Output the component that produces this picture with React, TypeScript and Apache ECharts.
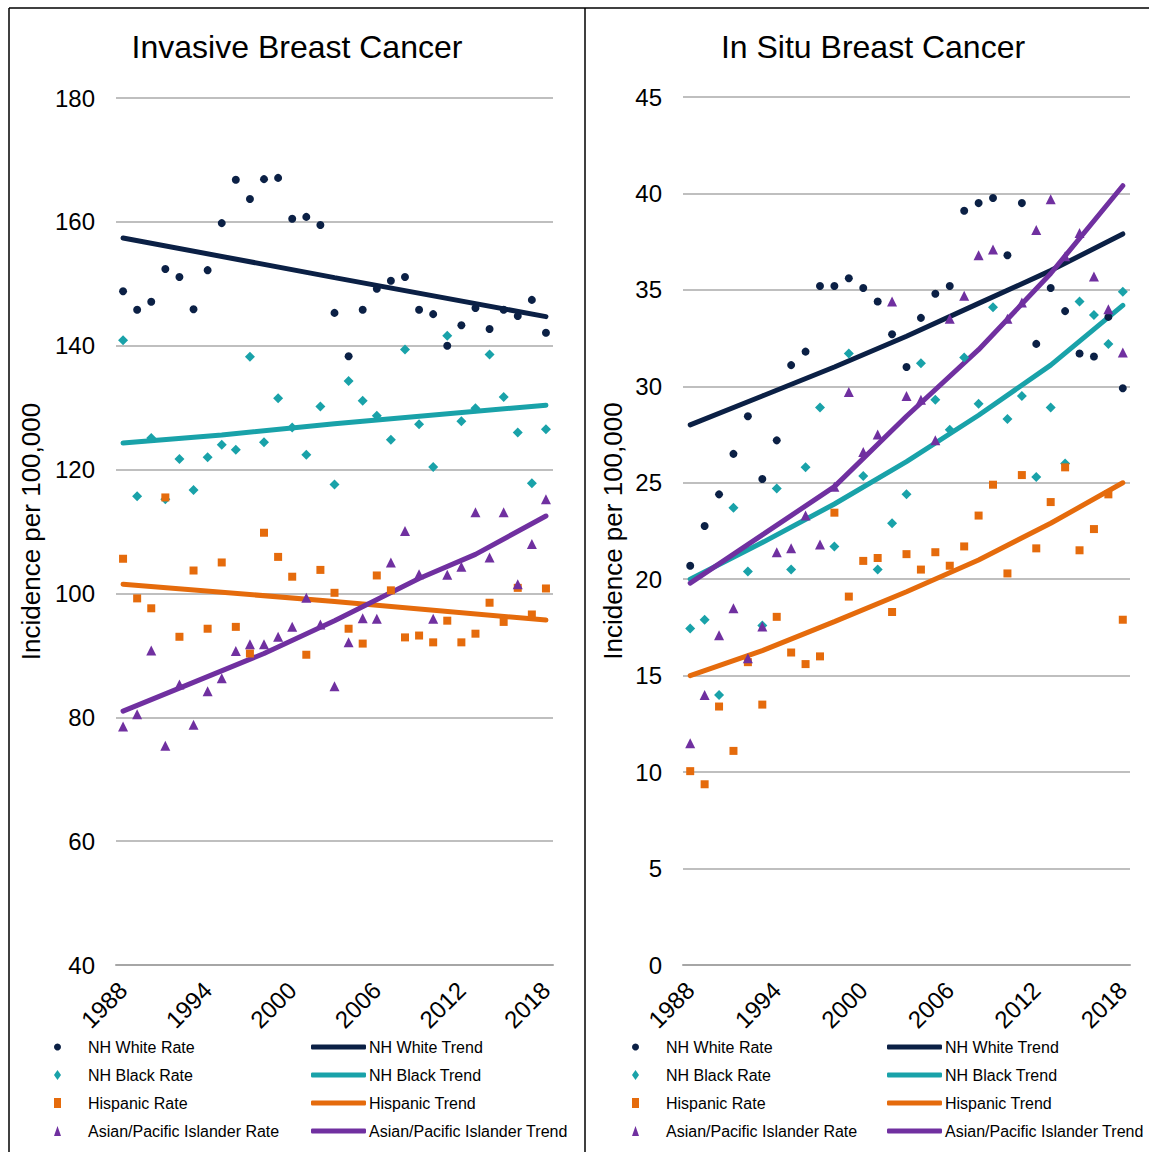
import React, { useEffect, useRef } from "react";
import * as echarts from "echarts";

const years = ["1988","1989","1990","1991","1992","1993","1994","1995","1996","1997","1998","1999","2000","2001","2002","2003","2004","2005","2006","2007","2008","2009","2010","2011","2012","2013","2014","2015","2016","2017","2018"];

// Invasive breast cancer (rates per 100,000)
const invWhite = [148.8,145.8,147.1,152.4,151.1,145.9,152.2,159.8,166.8,163.7,166.9,167.1,160.5,160.8,159.5,145.3,138.3,145.8,149.2,150.5,151.1,145.8,145.1,140.0,143.3,146.1,142.7,145.8,144.8,147.4,142.1];
const invBlack = [140.9,115.7,125.1,115.2,121.7,116.7,122.0,124.0,123.2,138.2,124.4,131.5,126.8,122.4,130.2,117.6,134.3,131.1,128.7,124.8,139.4,127.3,120.4,141.6,127.8,129.9,138.6,131.7,126.0,117.8,126.5];
const invHisp = [105.6,99.2,97.6,115.5,93.0,103.7,94.3,105.0,94.6,90.3,109.8,105.9,102.7,90.1,103.8,100.1,94.3,91.9,102.9,100.5,92.9,93.2,92.1,95.6,92.1,93.5,98.5,95.4,100.9,96.6,100.8];
const invApi = [78.5,80.5,90.8,75.4,85.3,78.8,84.2,86.3,90.7,91.8,91.8,93.0,94.6,99.3,95.0,85.0,92.1,96.0,95.9,105.0,110.1,103.1,95.9,103.0,104.3,113.1,105.8,113.1,101.5,108.0,115.2];
const invWhiteTrend = [[1988,157.4],[2003,151.0],[2018,144.7]];
const invBlackTrend = [[1988,124.3],[1995,125.6],[2003,127.4],[2018,130.4]];
const invHispTrend = [[1988,101.5],[2003,98.7],[2018,95.7]];
const invApiTrend = [[1988,81.0],[1992,84.7],[1998,90.3],[2003,95.6],[2009,102.4],[2013,106.3],[2018,112.5]];

// In situ breast cancer (rates per 100,000)
const isWhite = [20.7,22.76,24.4,26.5,28.45,25.2,27.2,31.1,31.8,35.2,35.2,35.6,35.1,34.4,32.7,31.0,33.55,34.8,35.2,39.1,39.5,39.76,36.8,39.5,32.2,35.1,33.9,31.7,31.55,33.6,29.9];
const isBlack = [17.45,17.9,14.0,23.7,20.4,17.6,24.7,20.5,25.8,28.9,21.7,31.7,25.35,20.5,22.9,24.4,31.2,29.3,27.75,31.5,29.1,34.1,28.3,29.5,25.3,28.9,26.0,34.4,33.7,32.2,34.9];
const isHisp = [10.05,9.37,13.4,11.1,15.7,13.5,18.05,16.2,15.6,16.0,23.45,19.1,20.95,21.1,18.3,21.3,20.5,21.4,20.7,21.7,23.3,24.9,20.3,25.4,21.6,24.0,25.8,21.5,22.6,24.4,17.9];
const isApi = [11.5,14.0,17.1,18.5,15.9,17.55,21.4,21.6,23.3,21.8,24.8,29.7,26.6,27.5,34.4,29.5,29.3,27.2,33.5,34.7,36.8,37.1,33.5,34.35,38.1,39.7,36.75,37.95,35.7,34.0,31.75];
const isWhiteTrend = [[1988,28.0],[1993,29.5],[1998,31.0],[2003,32.6],[2008,34.3],[2013,36.0],[2018,37.9]];
const isBlackTrend = [[1988,20.0],[1993,21.9],[1998,23.9],[2003,26.1],[2008,28.5],[2013,31.1],[2018,34.2]];
const isHispTrend = [[1988,15.0],[1993,16.3],[1998,17.8],[2003,19.35],[2008,21.0],[2013,22.9],[2018,25.0]];
const isApiTrend = [[1988,19.8],[1993,22.3],[1998,24.8],[2003,28.45],[2008,31.9],[2013,35.85],[2018,40.4]];

const rateNames = ["NH White Rate", "NH Black Rate", "Hispanic Rate", "Asian/Pacific Islander Rate"];
const trendNames = ["NH White Trend", "NH Black Trend", "Hispanic Trend", "Asian/Pacific Islander Trend"];
const colors = ["#0B2045", "#19A2A9", "#E56B0C", "#7030A0"];
const symbols = ["circle", "diamond", "rect", "triangle"];
const symbolSizes = [8, 10, 8, 10];

const FONT = "Liberation Sans, Arial, sans-serif";

export default function App() {
  const ref = useRef<HTMLDivElement>(null);
  useEffect(() => {
    if (!ref.current) return;
    const chart = echarts.init(ref.current, null, { renderer: "svg" });

    const grids = [
      { left: 116, top: 98, width: 437, height: 867 },
      { left: 683, top: 97, width: 447, height: 868 },
    ];

    const catAxis = (gi: number) => ({
      type: "category",
      gridIndex: gi,
      data: years,
      boundaryGap: true,
      axisLine: { lineStyle: { color: "#A6A6A6", width: 2 } },
      axisTick: { interval: 0, length: 8, lineStyle: { color: "#A6A6A6", width: 1.5 } },
      axisLabel: { interval: 5, rotate: 45, margin: 21, fontSize: 24, color: "#000", fontFamily: FONT },
      splitLine: { show: false },
    });
    const valX = (gi: number) => ({
      type: "value",
      gridIndex: gi,
      min: 1987.5,
      max: 2018.5,
      show: false,
      splitLine: { show: false },
    });
    const yAx = (gi: number, min: number, max: number, interval: number, gap: number) => ({
      type: "value",
      gridIndex: gi,
      min,
      max,
      interval,
      name: "Incidence per 100,000",
      nameLocation: "middle",
      nameGap: gap,
      nameTextStyle: { fontSize: 26, color: "#000", fontFamily: FONT },
      axisLine: { show: false },
      axisTick: { show: false },
      axisLabel: { margin: 21, fontSize: 24, color: "#000", fontFamily: FONT },
      splitLine: { lineStyle: { color: "#BFBFBF", width: 2 } },
    });

    const panels = [
      { rates: [invWhite, invBlack, invHisp, invApi], trends: [invWhiteTrend, invBlackTrend, invHispTrend, invApiTrend] },
      { rates: [isWhite, isBlack, isHisp, isApi], trends: [isWhiteTrend, isBlackTrend, isHispTrend, isApiTrend] },
    ];

    const series: any[] = [];
    panels.forEach((p, pi) => {
      p.trends.forEach((t, i) => {
        series.push({
          type: "line",
          name: trendNames[i],
          xAxisIndex: pi * 2 + 1,
          yAxisIndex: pi,
          data: t,
          showSymbol: false,
          symbol: "none",
          lineStyle: { color: colors[i], width: 5, cap: "round" },
          itemStyle: { color: colors[i] },
          z: 2,
        });
      });
      p.rates.forEach((r, i) => {
        series.push({
          type: "scatter",
          name: rateNames[i],
          xAxisIndex: pi * 2,
          yAxisIndex: pi,
          data: r,
          symbol: symbols[i],
          symbolSize: symbolSizes[i],
          itemStyle: { color: colors[i], opacity: 1 },
          z: 3 + i,
        });
      });
    });

    const legendText = { fontSize: 16, color: "#000", fontFamily: FONT };
    const rateLegend = (left: number) => ({
      orient: "vertical",
      left,
      top: 1034,
      itemWidth: 7,
      itemHeight: 10,
      itemGap: 12,
      selectedMode: false,
      textStyle: { ...legendText, padding: [0, 0, 0, 22] },
      data: rateNames,
    });
    const trendLegend = (left: number) => ({
      orient: "vertical",
      left,
      top: 1034,
      itemWidth: 55,
      itemHeight: 5,
      itemGap: 12,
      icon: "roundRect",
      selectedMode: false,
      textStyle: { ...legendText, padding: [0, 0, 0, -2] },
      data: trendNames,
    });

    chart.setOption({
      animation: false,
      backgroundColor: "#fff",
      grid: grids,
      xAxis: [catAxis(0), valX(0), catAxis(1), valX(1)],
      yAxis: [yAx(0, 40, 180, 20, 72), yAx(1, 0, 45, 5, 57)],
      legend: [rateLegend(49), trendLegend(306), rateLegend(627), trendLegend(882)],
      series,
      graphic: [
        { type: "line", shape: { x1: 9, y1: 8, x2: 1149, y2: 8 }, style: { stroke: "#000", lineWidth: 1.5 } },
        { type: "line", shape: { x1: 9, y1: 8, x2: 9, y2: 1152 }, style: { stroke: "#000", lineWidth: 1.5 } },
        { type: "line", shape: { x1: 585, y1: 8, x2: 585, y2: 1152 }, style: { stroke: "#000", lineWidth: 1.5 } },
        { type: "text", x: 297, y: 47, style: { text: "Invasive Breast Cancer", fontSize: 32, fontFamily: FONT, fill: "#000", textAlign: "center", textVerticalAlign: "middle" } },
        { type: "text", x: 873, y: 47, style: { text: "In Situ Breast Cancer", fontSize: 32, fontFamily: FONT, fill: "#000", textAlign: "center", textVerticalAlign: "middle" } },
      ],
    });
    return () => chart.dispose();
  }, []);
  return <div ref={ref} style={{ position: "absolute", left: 0, top: 0, width: 1149, height: 1152 }} />;
}
